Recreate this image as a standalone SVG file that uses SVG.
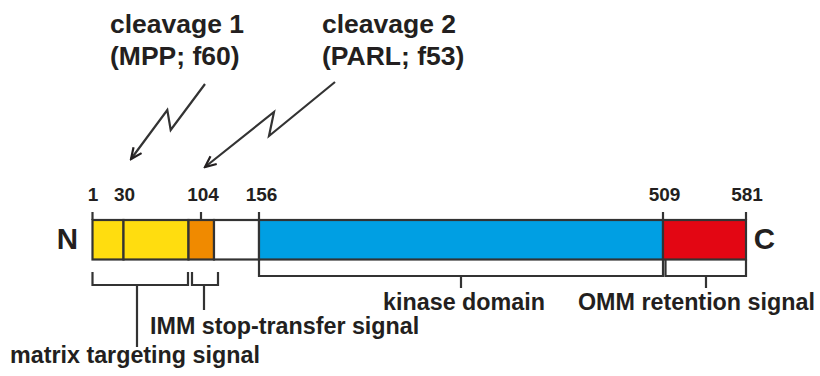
<svg xmlns="http://www.w3.org/2000/svg" width="820" height="376" viewBox="0 0 820 376">
<style>
.t{font-family:"Liberation Sans",Arial,sans-serif;font-weight:bold;fill:#231f20}
.num{font-size:19px;text-anchor:middle}
.lab{font-size:23.3px}
.big{font-size:26.5px}
.term{font-size:29.5px;text-anchor:middle}
.ln{stroke:#333;stroke-width:2.2;fill:none}
.seg{stroke:#333;stroke-width:2.2}
</style>
<defs>
<marker id="ah" markerUnits="userSpaceOnUse" markerWidth="14" markerHeight="14" refX="12" refY="6" orient="auto" viewBox="0 0 14 12">
<path d="M1,1 L12,6 L1,11" fill="none" stroke="#231f20" stroke-width="2.2"/>
</marker>
</defs>
<rect width="820" height="376" fill="#fff"/>
<g id="cleavage1">
<text class="t big" x="110" y="33">cleavage 1</text>
<text class="t big" x="110" y="65">(MPP; f60)</text>
</g>
<g id="cleavage2">
<text class="t big" x="322" y="33">cleavage 2</text>
<text class="t big" x="322" y="65">(PARL; f53)</text>
</g>
<g id="protein">
<rect id="mts1" class="seg" x="92.5" y="220" width="31" height="39.5" fill="#ffdd0f"/>
<rect id="mts2" class="seg" x="123.5" y="220" width="65" height="39.5" fill="#ffdd0f"/>
<rect id="imm" class="seg" x="188.5" y="220" width="25.5" height="39.5" fill="#f08a00"/>
<rect id="linker" class="seg" x="214" y="220" width="45" height="39.5" fill="#fff"/>
<rect id="kinase" class="seg" x="259" y="220" width="404" height="39.5" fill="#009fe3"/>
<rect id="omm" class="seg" x="663" y="220" width="83" height="39.5" fill="#e30613"/>
</g>
<g id="ticks">
<line class="ln" x1="92.5" y1="212" x2="92.5" y2="220"/>
<line class="ln" x1="201" y1="212" x2="201" y2="220"/>
<line class="ln" x1="259" y1="212" x2="259" y2="220"/>
<line class="ln" x1="663" y1="212" x2="663" y2="220"/>
<line class="ln" x1="746" y1="212" x2="746" y2="220"/>
<text class="t num" x="93" y="200.5">1</text>
<text class="t num" x="124.5" y="200.5">30</text>
<text class="t num" x="203" y="200.5">104</text>
<text class="t num" x="261.5" y="200.5">156</text>
<text class="t num" x="664.5" y="200.5">509</text>
<text class="t num" x="747" y="200.5">581</text>
</g>
<g id="N"><text class="t term" x="67.5" y="248.5">N</text></g>
<g id="C"><text class="t term" x="764.5" y="248.5">C</text></g>
<g id="connectors">
<path class="ln" d="M205,84 L170.7,130 L167.3,110 L131,159" marker-end="url(#ah)"/>
<path class="ln" d="M335,82 L269,136 L274,112 L205,167" marker-end="url(#ah)"/>
<path class="ln" d="M92.5,272 V285 H188 V272 M137,285 V347"/>
<path class="ln" d="M192,272 V285 H218 V272 M204,285 V310"/>
<path class="ln" d="M259,259.5 V276 H663 V259.5 M461,276 V288"/>
<path class="ln" d="M665.5,260 V276 H746 V259.5 M706,276 V288"/>
</g>
<g id="labels">
<text class="t lab" x="10" y="363">matrix targeting signal</text>
<text class="t lab" x="150" y="334">IMM stop-transfer signal</text>
<text class="t lab" x="464" y="310" text-anchor="middle">kinase domain</text>
<text class="t lab" x="578" y="310">OMM retention signal</text>
</g>
</svg>
